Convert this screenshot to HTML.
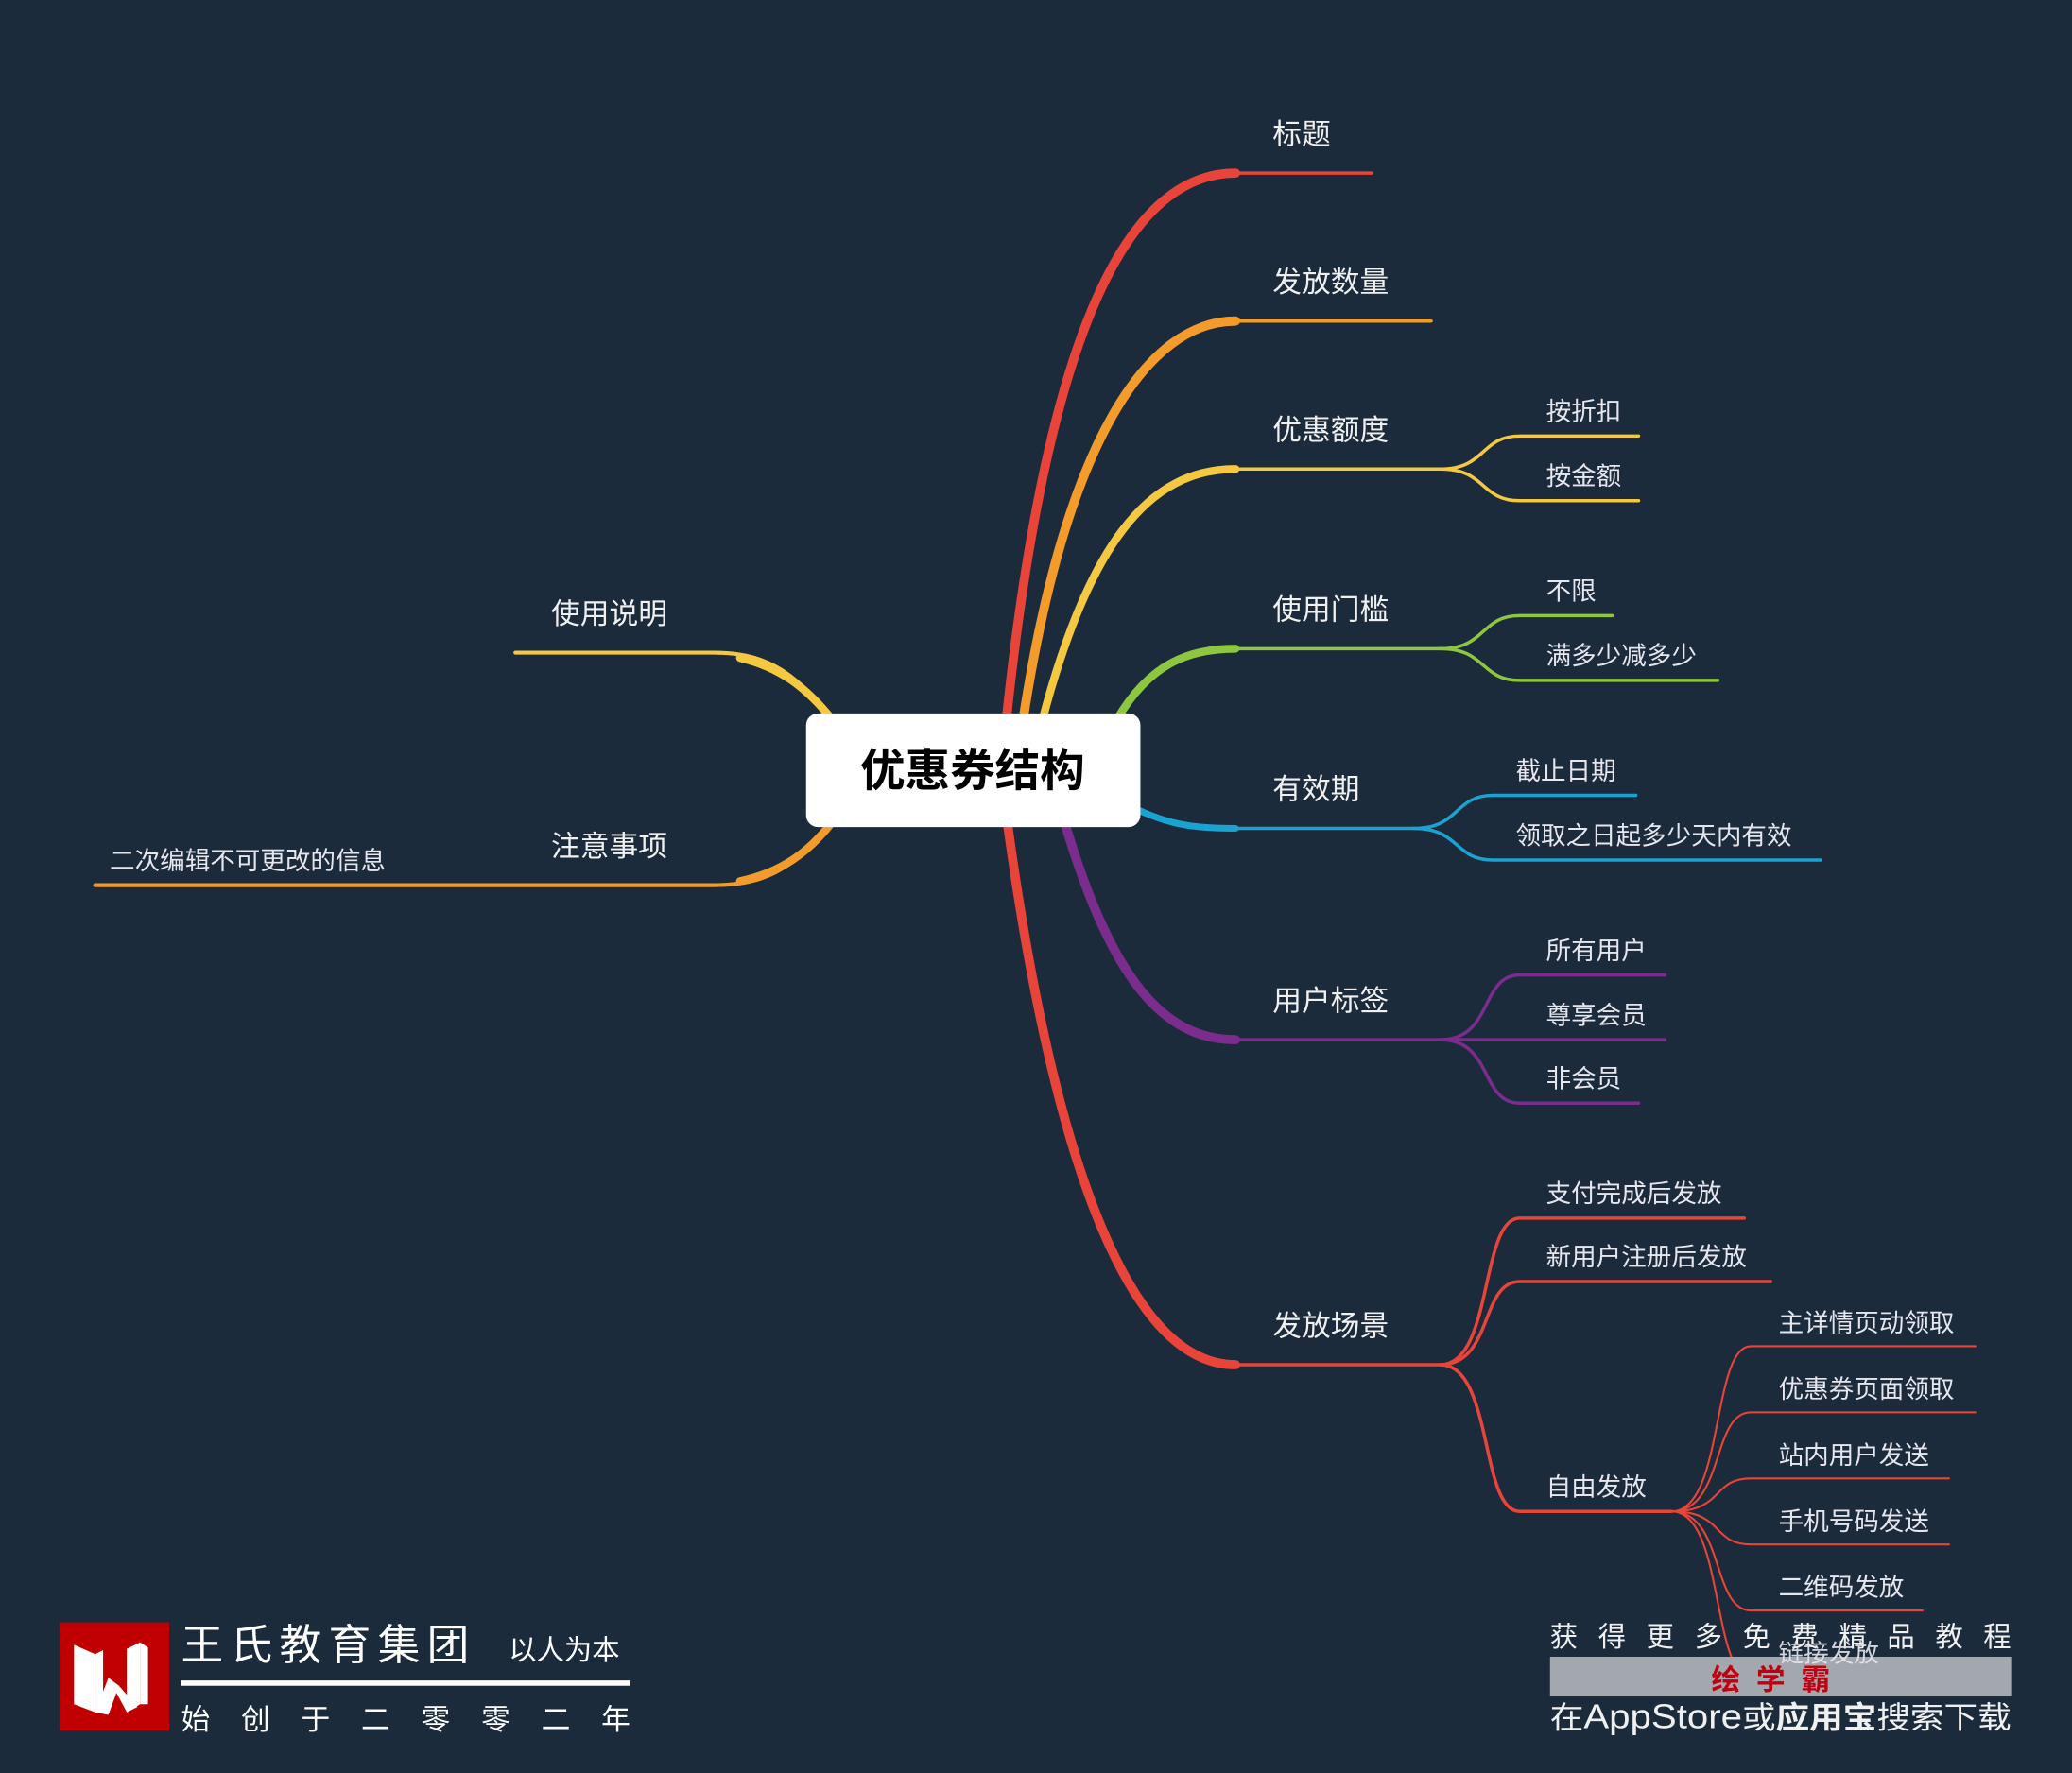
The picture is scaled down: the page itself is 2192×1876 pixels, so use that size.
<!DOCTYPE html>
<html><head><meta charset="utf-8"><style>
html,body{margin:0;padding:0;background:#1c2b3b;}
svg{display:block}
text{font-family:"Liberation Sans","Noto Sans CJK SC",sans-serif;}
</style></head><body>
<svg width="2192" height="1876" viewBox="0 0 1568 1342" xmlns="http://www.w3.org/2000/svg">
<rect width="1568" height="1342" fill="#1c2b3b"/>
<g fill="none" stroke-linecap="round">
<!-- left branches -->
<path d="M630,545 C600,505 575,494 540,494 L390,494" stroke="#f5c842" stroke-width="3"/>
<path d="M630,545 C610,520 590,505 560,498" stroke="#f5c842" stroke-width="6"/>
<path d="M630,622 C600,660 575,670 540,670 L72,670" stroke="#f39c2c" stroke-width="3"/>
<path d="M630,622 C612,645 592,660 560,667" stroke="#f39c2c" stroke-width="6"/>
<!-- main right branches -->
<path d="M760,560 C790,260 850,131 935,131" stroke="#e8443a" stroke-width="7"/>
<path d="M935,131 L1038,131" stroke="#e8443a" stroke-width="2.5"/>
<path d="M772,560 C805,330 870,243 935,243" stroke="#f39c2c" stroke-width="7"/>
<path d="M935,243 L1083,243" stroke="#f39c2c" stroke-width="2.5"/>
<path d="M785,560 C822,410 870,355 935,355" stroke="#f5c842" stroke-width="6"/>
<path d="M935,355 L1090,355" stroke="#f5c842" stroke-width="2.5"/>
<path d="M845,545 C870,502 900,491 935,491" stroke="#8dc63f" stroke-width="6"/>
<path d="M935,491 L1090,491" stroke="#8dc63f" stroke-width="2.5"/>
<path d="M855,610 C885,625 905,627 935,627" stroke="#1aa3d1" stroke-width="5"/>
<path d="M935,627 L1070,627" stroke="#1aa3d1" stroke-width="2.5"/>
<path d="M805,620 C840,740 880,787 935,787" stroke="#7b2d8e" stroke-width="7"/>
<path d="M935,787 L1090,787" stroke="#7b2d8e" stroke-width="2.5"/>
<path d="M762,620 C800,900 860,1033 935,1033" stroke="#e8443a" stroke-width="7"/>
<path d="M935,1033 L1090,1033" stroke="#e8443a" stroke-width="2.5"/>
<!-- sub branches -->
<g stroke="#f5c842" stroke-width="2.5">
<path d="M1090,355 C1125,355 1120,330 1150,330 L1240,330"/>
<path d="M1090,355 C1125,355 1120,379 1150,379 L1240,379"/>
</g>
<g stroke="#8dc63f" stroke-width="2.5">
<path d="M1090,491 C1125,491 1120,466 1150,466 L1220,466"/>
<path d="M1090,491 C1125,491 1120,515 1150,515 L1300,515"/>
</g>
<g stroke="#1aa3d1" stroke-width="2.5">
<path d="M1070,627 C1105,627 1100,602 1130,602 L1238,602"/>
<path d="M1070,627 C1105,627 1100,651 1130,651 L1378,651"/>
</g>
<g stroke="#7b2d8e" stroke-width="2.5">
<path d="M1090,787 C1130,787 1120,738 1150,738 L1260,738"/>
<path d="M1090,787 L1260,787"/>
<path d="M1090,787 C1130,787 1120,835 1150,835 L1240,835"/>
</g>
<g stroke="#e8443a" stroke-width="2.5">
<path d="M1090,1033 C1130,1033 1120,922 1150,922 L1320,922"/>
<path d="M1090,1033 C1130,1033 1120,970 1150,970 L1340,970"/>
<path d="M1090,1033 C1130,1033 1120,1144 1150,1144 L1265,1144"/>
</g>
<g stroke="#e8443a" stroke-width="1.5">
<path d="M1265,1144 C1305,1144 1295,1019 1325,1019 L1495,1019"/>
<path d="M1265,1144 C1305,1144 1295,1069 1325,1069 L1495,1069"/>
<path d="M1265,1144 C1305,1144 1295,1119 1325,1119 L1475,1119"/>
<path d="M1265,1144 C1305,1144 1295,1169 1325,1169 L1475,1169"/>
<path d="M1265,1144 C1305,1144 1295,1219 1325,1219 L1455,1219"/>
<path d="M1265,1144 C1305,1144 1295,1269 1325,1269 L1435,1269"/>
</g>
</g>
<!-- center -->
<rect x="610" y="540" width="253" height="86" rx="9" fill="#fff"/>
<text x="736" y="595" font-size="34" font-weight="bold" text-anchor="middle" fill="#000">优惠券结构</text>
<!-- labels -->
<g fill="#f0f0f0" font-size="22">
<text x="963" y="109">标题</text>
<text x="963" y="221">发放数量</text>
<text x="963" y="333">优惠额度</text>
<text x="963" y="469">使用门槛</text>
<text x="963" y="605">有效期</text>
<text x="963" y="765">用户标签</text>
<text x="963" y="1011">发放场景</text>
<text x="417" y="472">使用说明</text>
<text x="417" y="648">注意事项</text>
</g>
<g fill="#e6e6ee" font-size="19">
<text x="83" y="658">二次编辑不可更改的信息</text>
<text x="1170" y="318">按折扣</text>
<text x="1170" y="367">按金额</text>
<text x="1170" y="454">不限</text>
<text x="1170" y="503">满多少减多少</text>
<text x="1147" y="590">截止日期</text>
<text x="1147" y="639">领取之日起多少天内有效</text>
<text x="1170" y="726">所有用户</text>
<text x="1170" y="775">尊享会员</text>
<text x="1170" y="823">非会员</text>
<text x="1170" y="910">支付完成后发放</text>
<text x="1170" y="958">新用户注册后发放</text>
<text x="1170" y="1132">自由发放</text>
<text x="1346" y="1008">主详情页动领取</text>
<text x="1346" y="1058">优惠券页面领取</text>
<text x="1346" y="1108">站内用户发送</text>
<text x="1346" y="1158">手机号码发送</text>
<text x="1346" y="1208">二维码发放</text>
</g>
<!-- bottom right -->
<text x="1173" y="1246" font-size="21" fill="#f0f0f0" textLength="349" lengthAdjust="spacing">获得更多免费精品教程</text>
<rect x="1173" y="1254" width="349" height="30" fill="#a3a8ae"/>
<text x="1340" y="1279" font-size="22" font-weight="bold" fill="#c00010" text-anchor="middle" textLength="90" lengthAdjust="spacing">绘学霸</text>
<text x="1346" y="1258" font-size="19" fill="#e6e6ee" opacity="0.9">链接发放</text>
<text x="1173" y="1308" font-size="23" fill="#f0f0f0" textLength="349" lengthAdjust="spacingAndGlyphs">在<tspan font-size="26">AppStore</tspan>或<tspan font-weight="bold">应用宝</tspan>搜索下载</text>
<!-- logo -->
<rect x="45" y="1228" width="83" height="82" fill="#c00000"/>
<g fill="#fff">
<polygon points="56,1245 72,1252 72,1296 56,1290"/>
<polygon points="72,1252 78,1249 78,1292 72,1296"/>
<polygon points="72,1296 82,1270 90,1276 82,1298"/>
<polygon points="82,1270 96,1296 104,1292 90,1276"/>
<polygon points="96,1296 106,1290 106,1243 96,1248"/>
<polygon points="106,1243 112,1247 112,1290 106,1290"/>
</g>
<text x="137" y="1256" font-size="32" fill="#fff" textLength="218" lengthAdjust="spacing">王氏教育集团</text>
<text x="385" y="1256" font-size="21" fill="#fff">以人为本</text>
<rect x="137" y="1272" width="340" height="4" fill="#fff"/>
<text x="137" y="1309" font-size="22" fill="#fff" textLength="340" lengthAdjust="spacing">始创于二零零二年</text>
</svg>
</body></html>
